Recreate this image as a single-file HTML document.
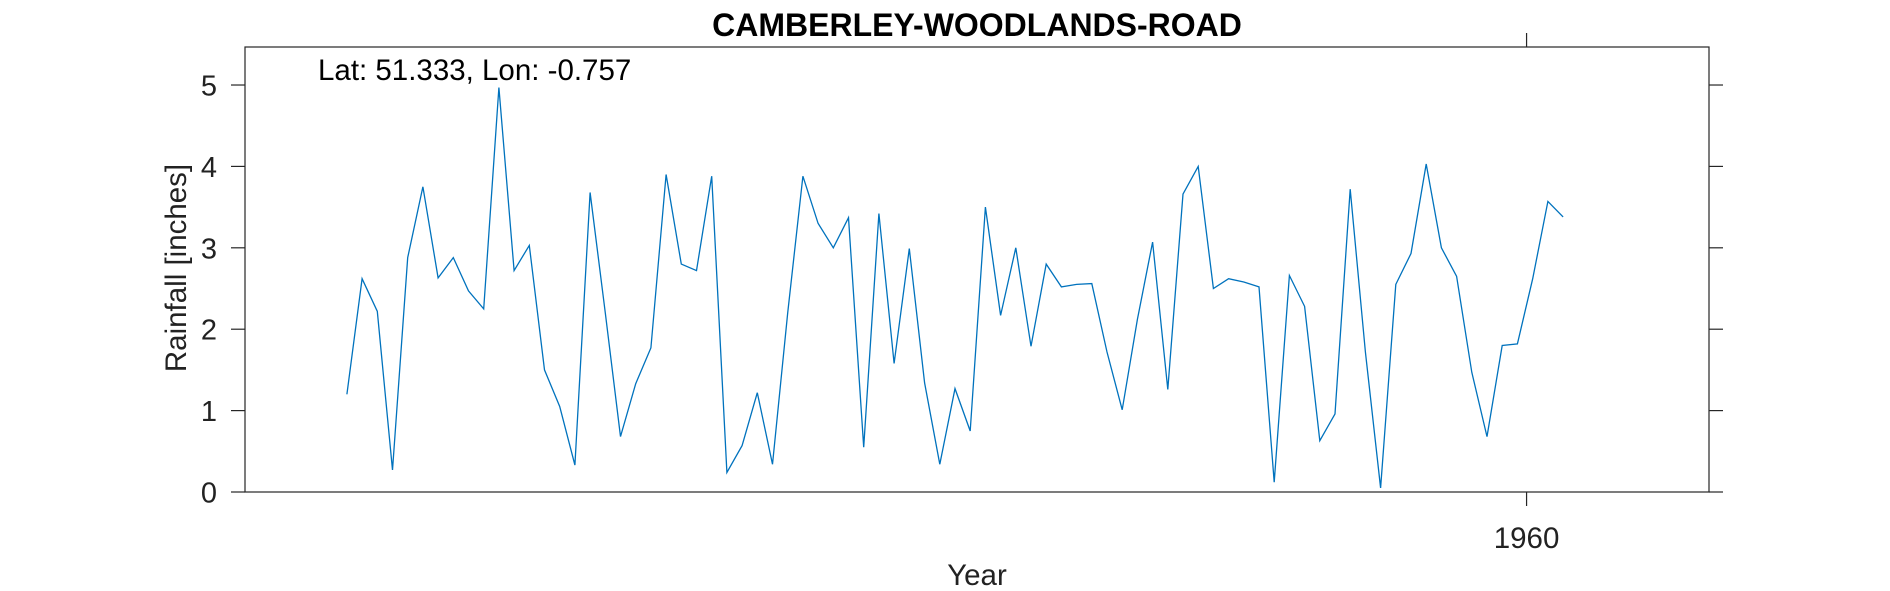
<!DOCTYPE html>
<html><head><meta charset="utf-8"><style>
body{margin:0;background:#fff;}
svg{display:block;font-family:"Liberation Sans",sans-serif;}
</style></head><body>
<svg id="chart" width="1890" height="591">
<text x="977" y="36" text-anchor="middle" font-size="32" font-weight="bold">CAMBERLEY-WOODLANDS-ROAD</text>
<text x="318" y="80" font-size="29.5">Lat: 51.333, Lon: -0.757</text>
<text transform="translate(186,268) rotate(-90)" text-anchor="middle" font-size="29.5" fill="#222">Rainfall [inches]</text>
<text x="977" y="585" text-anchor="middle" font-size="29.5" fill="#222">Year</text>
<g id="axes"></g>
<polyline id="series" fill="none" stroke="#0072bd" stroke-width="1.3"></polyline>
<rect x="245" y="47" width="1464" height="445" fill="none" stroke="#262626" stroke-width="1.2"/>
</svg>
<script>
const rainfall=[1.2,2.62,2.22,0.27,2.88,3.75,2.63,2.88,2.47,2.25,4.97,2.72,3.03,1.5,1.05,0.33,3.68,2.2,0.68,1.33,1.77,3.9,2.8,2.72,3.88,0.24,0.57,1.22,0.34,2.2,3.88,3.3,3.0,3.37,0.55,3.42,1.58,2.99,1.34,0.34,1.27,0.75,3.5,2.17,3.0,1.79,2.8,2.52,2.55,2.56,1.72,1.01,2.12,3.07,1.26,3.66,4.0,2.5,2.62,2.58,2.52,0.12,2.66,2.28,0.63,0.96,3.72,1.72,0.05,2.55,2.93,4.03,3.0,2.65,1.47,0.68,1.8,1.82,2.62,3.57,3.38];
const firstYear=1882.4;
const yTicks=[0,1,2,3,4,5];
const xTicks=[1960];
const L=245,R=1709,T=47,B=492;
const xMin=1875.7,xMax=1972,yMin=0,yMax=5.467;
const xs=v=>L+(v-xMin)/(xMax-xMin)*(R-L);
const ys=v=>B-(v-yMin)/(yMax-yMin)*(B-T);
const NS='http://www.w3.org/2000/svg';
const g=document.getElementById('axes');
function mk(t,a){const e=document.createElementNS(NS,t);for(const k in a)e.setAttribute(k,a[k]);g.appendChild(e);return e;}
yTicks.forEach(v=>{
  const y=ys(v);
  const t1=mk('line',{x1:L-14,x2:L,y1:y,y2:y,stroke:'#262626','stroke-width':1.2});
  
  
  const t2=mk('line',{x1:R,x2:R+14,y1:y,y2:y,stroke:'#262626','stroke-width':1.2});
  
  
  const tx=mk('text',{x:L-28,y:y+10.5,'text-anchor':'end','font-size':29,fill:'#222'});
  tx.textContent=v;
  
  
});
xTicks.forEach(v=>{
  const x=xs(v);
  const t1=mk('line',{x1:x,x2:x,y1:B,y2:B+14,stroke:'#262626','stroke-width':1.2});
  
  
  const t2=mk('line',{x1:x,x2:x,y1:T-14,y2:T,stroke:'#262626','stroke-width':1.2});
  
  
  const tx=mk('text',{x:x,y:B+56,'text-anchor':'middle','font-size':29.5,fill:'#222'});
  tx.textContent=v;
  
  
});
document.getElementById('series').setAttribute('points',rainfall.map((v,i)=>xs(firstYear+i).toFixed(1)+','+ys(v).toFixed(1)).join(' '));
</script>
</body></html>
